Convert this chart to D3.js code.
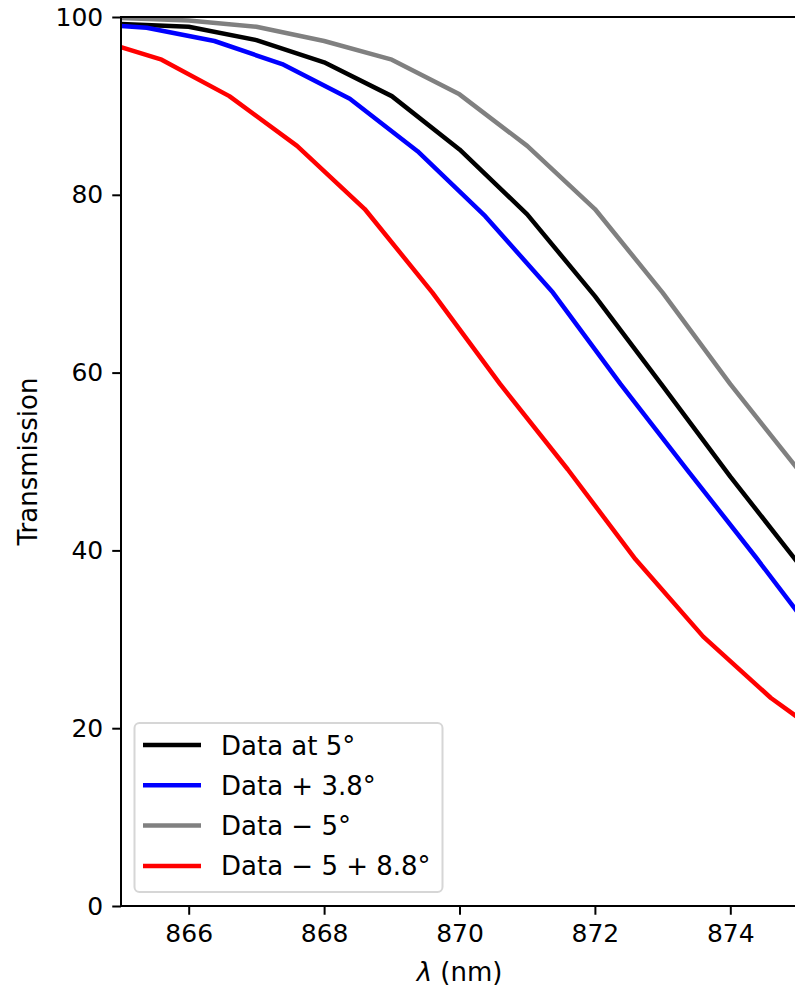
<!DOCTYPE html>
<html>
<head>
<meta charset="utf-8">
<script src="https://cdn.jsdelivr.net/npm/d3@7"></script>
<style>
  body { margin: 0; background: #fff; }
  svg { display: block; font-family: "DejaVu Sans", sans-serif; }
</style>
</head>
<body>
<div id="chart"></div>
<script>
// wavelengths (nm) and transmission (%)
const blackX = [865, 866, 867, 868, 869, 870, 871, 872, 873, 874, 875];
const blackY = [99.2, 98.9, 97.4, 94.9, 91.1, 85.1, 77.8, 68.6, 58.5, 48.3, 38.6];

const blueX = [865, 865.38, 866.38, 867.38, 868.38, 869.38, 870.38, 871.38, 872.38, 873.38, 874.38, 875];
const blueY = [99.0, 98.8, 97.3, 94.7, 90.8, 84.9, 77.6, 69.0, 58.7, 48.9, 39.2, 33.0];

const grayX = [865, 866, 867, 868, 869, 870, 871, 872, 873, 874, 875];
const grayY = [99.9, 99.6, 98.9, 97.3, 95.2, 91.3, 85.5, 78.4, 69.0, 58.7, 49.1];

const redX = [865, 865.6, 866.6, 867.6, 868.6, 869.6, 870.6, 871.6, 872.6, 873.6, 874.6, 875];
const redY = [96.6, 95.2, 91.1, 85.5, 78.4, 69.0, 58.7, 49.1, 39.0, 30.3, 23.4, 21.2];

const seriesNames = ['Data at 5°', 'Data + 3.8°', 'Data − 5°', 'Data − 5 + 8.8°'];
const seriesColors = ['#000000', '#0000ff', '#808080', '#ff0000'];

const xTicks = [866, 868, 870, 872, 874];
const yTicks = [0, 20, 40, 60, 80, 100];

const createGraph = () => {
  const width = 795;
  const height = 988;
  const margin = { top: 17, right: -3, bottom: 82, left: 121 };
  const tickFont = 25;
  const labelFont = 26;

  const series = [
    { x: blackX, y: blackY },
    { x: blueX, y: blueY },
    { x: grayX, y: grayY },
    { x: redX, y: redY }
  ].map((s, i) => ({
    name: seriesNames[i],
    color: seriesColors[i],
    points: s.x.map((v, j) => [v, s.y[j]])
  }));

  const x = d3.scaleLinear().domain([865, 875]).range([margin.left, width - margin.right]);
  const y = d3.scaleLinear().domain([0, 100]).range([height - margin.bottom, margin.top]);

  const svg = d3.select('#chart').append('svg')
    .attr('width', width)
    .attr('height', height);

  svg.append('defs').append('clipPath')
    .attr('id', 'plot-clip')
    .append('rect')
    .attr('x', x(865))
    .attr('y', y(100))
    .attr('width', x(875) - x(865))
    .attr('height', y(0) - y(100));

  const line = d3.line()
    .x(d => x(d[0]))
    .y(d => y(d[1]));

  svg.append('g')
    .attr('clip-path', 'url(#plot-clip)')
    .selectAll('path')
    .data(series)
    .enter().append('path')
    .attr('d', d => line(d.points))
    .attr('fill', 'none')
    .attr('stroke', d => d.color)
    .attr('stroke-width', 4.5)
    .attr('stroke-linejoin', 'round')
    .attr('stroke-linecap', 'square');

  // axes
  const xAxis = svg.append('g')
    .attr('transform', `translate(0, ${y(0)})`)
    .call(d3.axisBottom(x).tickValues(xTicks).tickSize(8.75).tickPadding(9).tickFormat(d3.format('d')));
  const yAxis = svg.append('g')
    .attr('transform', `translate(${x(865)}, 0)`)
    .call(d3.axisLeft(y).tickValues(yTicks).tickSize(8.75).tickPadding(9).tickFormat(d3.format('d')));

  [xAxis, yAxis].forEach(g => {
    g.select('.domain').remove();
    g.selectAll('.tick line').attr('stroke', '#000').attr('stroke-width', 2);
    g.selectAll('.tick text')
      .attr('fill', '#000')
      .style('font-size', tickFont + 'px')
      .style('font-family', '"DejaVu Sans", sans-serif');
  });

  // spines
  svg.append('rect')
    .attr('x', x(865))
    .attr('y', y(100))
    .attr('width', x(875) - x(865))
    .attr('height', y(0) - y(100))
    .attr('fill', 'none')
    .attr('stroke', '#000')
    .attr('stroke-width', 2);

  // labels
  svg.append('text')
    .attr('x', (x(865) + x(875)) / 2)
    .attr('y', 981)
    .attr('text-anchor', 'middle')
    .style('font-size', labelFont + 'px')
    .html('<tspan font-style="italic">λ</tspan> (nm)');

  svg.append('text')
    .attr('transform', `translate(37, ${(y(0) + y(100)) / 2}) rotate(-90)`)
    .attr('text-anchor', 'middle')
    .style('font-size', labelFont + 'px')
    .text('Transmission');

  // legend
  const legend = svg.append('g');
  legend.append('rect')
    .attr('x', 134.5)
    .attr('y', 723)
    .attr('width', 308)
    .attr('height', 169)
    .attr('rx', 5)
    .attr('fill', 'rgba(255,255,255,0.8)')
    .attr('stroke', '#d6d6d6')
    .attr('stroke-width', 2);

  const item = legend.selectAll('.item')
    .data(series)
    .enter().append('g')
    .attr('class', 'item')
    .attr('transform', (d, i) => `translate(0, ${745 + i * 40.3})`);

  item.append('line')
    .attr('x1', 143)
    .attr('x2', 201)
    .attr('stroke', d => d.color)
    .attr('stroke-width', 4.5);

  item.append('text')
    .attr('x', 221)
    .attr('y', 9.5)
    .style('font-size', labelFont + 'px')
    .text(d => d.name);
};

createGraph();
</script>
</body>
</html>
